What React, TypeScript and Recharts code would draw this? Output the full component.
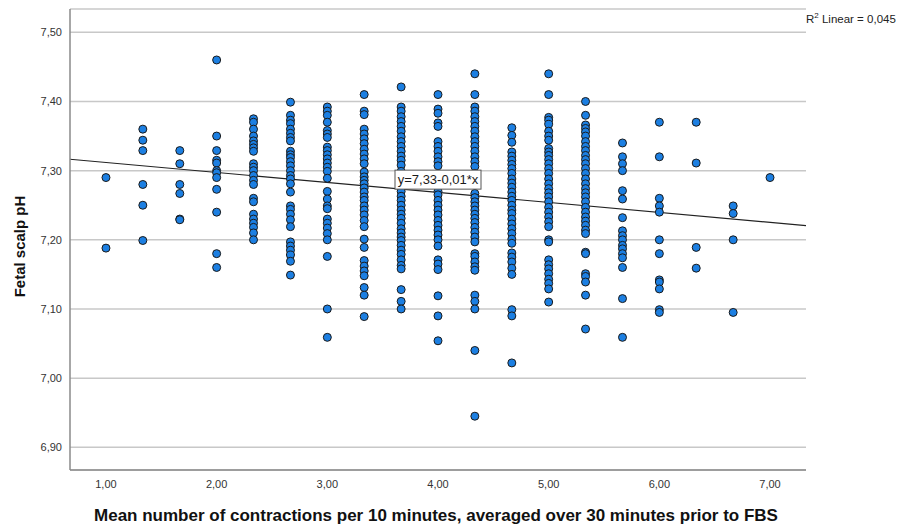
import React from 'react';
import {
  ScatterChart,
  Scatter,
  XAxis,
  YAxis,
  CartesianGrid,
  ReferenceLine,
  ReferenceDot,
} from 'recharts';

// Mean number of contractions per 10 minutes (categories on x)
const xCats = [1.0, 1.333, 1.667, 2.0, 2.333, 2.667, 3.0, 3.333, 3.667, 4.0, 4.333, 4.667, 5.0, 5.333, 5.667, 6.0, 6.333, 6.667, 7.0];

// Fetal scalp pH values, one array per x category
const ph100 = [7.29, 7.188];
const ph133 = [7.36, 7.344, 7.329, 7.28, 7.25, 7.199];
const ph167 = [7.329, 7.31, 7.28, 7.267, 7.23, 7.229];
const ph200 = [7.46, 7.35, 7.329, 7.315, 7.311, 7.3, 7.297, 7.29, 7.273, 7.24, 7.18, 7.16];
const ph233 = [7.375, 7.37, 7.36, 7.35, 7.343, 7.338, 7.333, 7.328, 7.31, 7.305, 7.3, 7.293, 7.286, 7.28, 7.26, 7.255, 7.237, 7.23, 7.224, 7.218, 7.21, 7.2];
const ph267 = [7.399, 7.38, 7.373, 7.368, 7.36, 7.354, 7.348, 7.343, 7.328, 7.323, 7.319, 7.313, 7.307, 7.3, 7.293, 7.288, 7.281, 7.269, 7.249, 7.244, 7.237, 7.229, 7.219, 7.197, 7.191, 7.185, 7.178, 7.169, 7.149];
const ph300 = [7.392, 7.386, 7.38, 7.37, 7.358, 7.353, 7.348, 7.334, 7.329, 7.323, 7.317, 7.311, 7.305, 7.299, 7.289, 7.27, 7.259, 7.249, 7.245, 7.23, 7.224, 7.217, 7.209, 7.2, 7.176, 7.1, 7.059];
const ph333 = [7.41, 7.386, 7.381, 7.36, 7.353, 7.346, 7.339, 7.331, 7.324, 7.317, 7.31, 7.298, 7.291, 7.286, 7.281, 7.275, 7.269, 7.262, 7.257, 7.249, 7.243, 7.236, 7.228, 7.219, 7.201, 7.189, 7.17, 7.162, 7.155, 7.148, 7.131, 7.12, 7.089];
const ph367 = [7.421, 7.392, 7.386, 7.378, 7.371, 7.364, 7.357, 7.349, 7.342, 7.335, 7.328, 7.321, 7.315, 7.308, 7.299, 7.291, 7.282, 7.27, 7.263, 7.257, 7.25, 7.243, 7.237, 7.231, 7.224, 7.216, 7.21, 7.204, 7.199, 7.192, 7.185, 7.179, 7.171, 7.163, 7.158, 7.128, 7.111, 7.1];
const ph400 = [7.41, 7.389, 7.383, 7.369, 7.364, 7.342, 7.335, 7.328, 7.32, 7.313, 7.307, 7.286, 7.27, 7.265, 7.257, 7.25, 7.243, 7.236, 7.228, 7.221, 7.214, 7.207, 7.2, 7.191, 7.171, 7.165, 7.157, 7.119, 7.09, 7.054];
const ph433 = [7.44, 7.41, 7.392, 7.386, 7.378, 7.371, 7.364, 7.357, 7.349, 7.342, 7.335, 7.328, 7.32, 7.313, 7.306, 7.296, 7.286, 7.267, 7.261, 7.255, 7.249, 7.243, 7.237, 7.231, 7.225, 7.218, 7.211, 7.204, 7.197, 7.18, 7.176, 7.168, 7.161, 7.156, 7.12, 7.111, 7.1, 7.04, 6.945];
const ph467 = [7.362, 7.351, 7.341, 7.327, 7.321, 7.315, 7.309, 7.303, 7.296, 7.288, 7.282, 7.276, 7.269, 7.263, 7.257, 7.25, 7.243, 7.238, 7.23, 7.223, 7.216, 7.209, 7.201, 7.195, 7.181, 7.175, 7.168, 7.159, 7.15, 7.099, 7.09, 7.022];
const ph500 = [7.44, 7.41, 7.377, 7.373, 7.367, 7.357, 7.35, 7.344, 7.332, 7.327, 7.322, 7.316, 7.31, 7.303, 7.296, 7.288, 7.281, 7.274, 7.268, 7.262, 7.255, 7.247, 7.24, 7.233, 7.226, 7.219, 7.2, 7.197, 7.171, 7.164, 7.158, 7.151, 7.143, 7.137, 7.129, 7.11];
const ph533 = [7.4, 7.38, 7.366, 7.361, 7.356, 7.35, 7.342, 7.335, 7.329, 7.322, 7.316, 7.31, 7.303, 7.296, 7.288, 7.281, 7.274, 7.268, 7.262, 7.255, 7.247, 7.24, 7.233, 7.227, 7.221, 7.214, 7.209, 7.182, 7.18, 7.151, 7.147, 7.139, 7.12, 7.071];
const ph567 = [7.34, 7.32, 7.31, 7.3, 7.271, 7.259, 7.232, 7.213, 7.206, 7.2, 7.192, 7.187, 7.18, 7.174, 7.16, 7.115, 7.059];
const ph600 = [7.37, 7.32, 7.26, 7.249, 7.24, 7.2, 7.18, 7.142, 7.139, 7.129, 7.099, 7.095];
const ph633 = [7.37, 7.311, 7.189, 7.159];
const ph667 = [7.249, 7.238, 7.2, 7.095];
const ph700 = [7.29];

const phByCat = [ph100, ph133, ph167, ph200, ph233, ph267, ph300, ph333, ph367, ph400, ph433, ph467, ph500, ph533, ph567, ph600, ph633, ph667, ph700];

// Axis ticks
const xTicks = [1, 2, 3, 4, 5, 6, 7];
const yTicks = [6.9, 7.0, 7.1, 7.2, 7.3, 7.4, 7.5];

// Fit line endpoints and its label
const fitX = [0.675, 7.325];
const fitY = [7.3165, 7.2205];
const fitLabel = 'y=7,33-0,01*x';
const fitLabelPos = { x: 4.0, y: 7.287 };
const r2Text = { pre: 'R', sup: '2', post: ' Linear = 0,045' };

const xTitle = 'Mean number of contractions per 10 minutes, averaged over 30 minutes prior to FBS';
const yTitle = 'Fetal scalp pH';

const data = xCats.flatMap((x, i) => phByCat[i].map((y) => ({ x, y })));

const fmt = (v: number) => v.toFixed(2).replace('.', ',');
const FONT = '"Liberation Sans", Arial, Helvetica, sans-serif';

const renderDot = (props: any) => {
  const { cx, cy } = props;
  if (cx == null || cy == null) return <g />;
  return <circle cx={cx} cy={cy} r={4} fill="#1c7fe2" stroke="#1a1a1a" strokeWidth={1} />;
};

const renderFitLabel = (props: any) => {
  const { cx, cy } = props;
  const w = 86;
  const h = 19;
  return (
    <g>
      <rect x={cx - w / 2} y={cy - h / 2} width={w} height={h} fill="#ffffff" stroke="#555555" strokeWidth={1} />
      <text x={cx} y={cy + 4.6} textAnchor="middle" fontSize={13} fill="#1a1a1a" fontFamily={FONT}>
        {fitLabel}
      </text>
    </g>
  );
};

const YTitle = (props: any) => {
  const vb = props.viewBox || { x: 0, y: 0, width: 0, height: 0 };
  const tx = vb.x + 25;
  const ty = vb.y + vb.height / 2 + 7;
  return (
    <text
      transform={`translate(${tx}, ${ty}) rotate(-90)`}
      textAnchor="middle"
      fontSize={15}
      fontWeight="bold"
      fill="#111"
      fontFamily={FONT}
    >
      {yTitle}
    </text>
  );
};

const XTitle = (props: any) => {
  const vb = props.viewBox || { x: 0, y: 0, width: 0, height: 0 };
  return (
    <text
      x={vb.x + vb.width / 2 - 2}
      y={vb.y + vb.height - 5}
      textAnchor="middle"
      fontSize={17}
      fontWeight="bold"
      fill="#111"
      fontFamily={FONT}
    >
      {xTitle}
    </text>
  );
};

export default function App() {
  return (
    <div style={{ position: 'absolute', left: 0, top: 0, width: 901, height: 526, background: '#ffffff', fontFamily: FONT }}>
      <ScatterChart width={901} height={526} margin={{ top: 9, right: 95, bottom: 0, left: 0 }}>
        <CartesianGrid vertical={false} stroke="#c8c8c8" strokeWidth={1.5} />
        <XAxis
          type="number"
          dataKey="x"
          domain={[0.675, 7.325]}
          ticks={xTicks}
          tickFormatter={fmt}
          allowDataOverflow
          tickLine={false}
          axisLine={{ stroke: '#8a8a8a', strokeWidth: 1.5 }}
          height={56}
          tickMargin={4}
          tick={{ fontSize: 11, fill: '#333', fontFamily: FONT }}
          label={{ content: XTitle }}
        />
        <YAxis
          type="number"
          dataKey="y"
          domain={[6.8672, 7.5337]}
          ticks={yTicks}
          tickFormatter={fmt}
          allowDataOverflow
          tickLine={false}
          axisLine={{ stroke: '#8a8a8a', strokeWidth: 1.5 }}
          width={70}
          tick={{ fontSize: 11, fill: '#333', fontFamily: FONT }}
          label={{ content: YTitle }}
        />
        <Scatter data={data} shape={renderDot} isAnimationActive={false} />
        <ReferenceLine
          segment={[
            { x: fitX[0], y: fitY[0] },
            { x: fitX[1], y: fitY[1] },
          ]}
          stroke="#222"
          strokeWidth={1.2}
          ifOverflow="hidden"
        />
        <ReferenceDot x={fitLabelPos.x} y={fitLabelPos.y} shape={renderFitLabel} ifOverflow="visible" />
      </ScatterChart>
      <div
        style={{
          position: 'absolute',
          left: 806,
          top: 12,
          fontSize: 11.5,
          color: '#222',
          fontFamily: FONT,
          whiteSpace: 'nowrap',
          lineHeight: '14px',
        }}
      >
        {r2Text.pre}
        <sup style={{ fontSize: 8, verticalAlign: 'top', position: 'relative', top: -3 }}>{r2Text.sup}</sup>
        {r2Text.post}
      </div>
    </div>
  );
}
